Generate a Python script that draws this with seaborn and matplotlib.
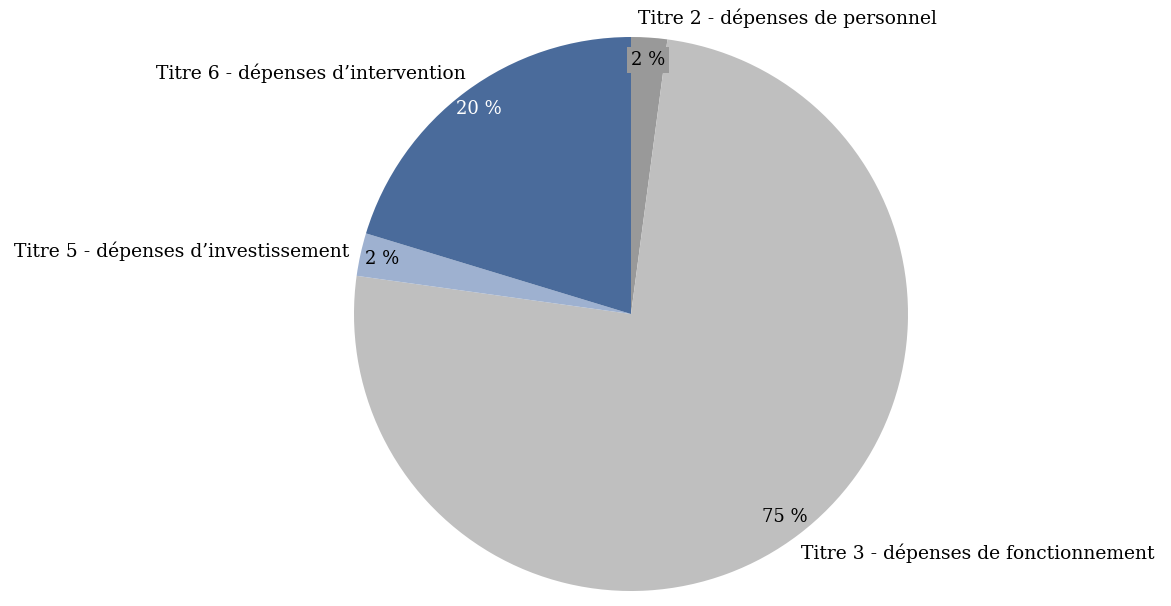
import matplotlib
matplotlib.use('Agg')
import matplotlib.pyplot as plt
import seaborn as sns

# data
labels = ['Titre 2 - dépenses de personnel',
          'Titre 3 - dépenses de fonctionnement',
          'Titre 5 - dépenses d’investissement',
          'Titre 6 - dépenses d’intervention']
values = [2.1, 75.1, 2.5, 20.3]

colors = ['#999999', '#bfbfbf', '#9eb1d0', '#4a6b9b']
pct_colors = ['black', 'black', 'black', 'white']

# outer label anchors (in pie radius units) and alignment
label_xy = [(0.025, 1.069), (0.614, -0.863), (-1.018, 0.227), (-0.596, 0.870)]
label_ha = ['left', 'left', 'right', 'right']

sns.set_theme(style="white")
plt.rcParams['font.family'] = ['DejaVu Serif']

fig = plt.figure(figsize=(11.71, 6.06), dpi=100)
cx, cy, r = 631, 314, 277
ax = fig.add_axes([(cx - r) / 1171, (606 - cy - r) / 606, 2 * r / 1171, 2 * r / 606])

wedges, texts, autotexts = ax.pie(values, colors=colors, startangle=90, counterclock=False,
                                  autopct=lambda p: f"{round(p)} %", pctdistance=0.92,
                                  wedgeprops=dict(linewidth=0),
                                  textprops=dict(fontsize=13))
for t, c in zip(autotexts, pct_colors):
    t.set_color(c)
autotexts[0].set_bbox(dict(facecolor=colors[0], edgecolor='none', pad=3))

for lab, (x, y), ha in zip(labels, label_xy, label_ha):
    ax.text(x, y, lab, ha=ha, va='center', fontsize=13.5, color='black', clip_on=False)

ax.set_xlim(-1, 1)
ax.set_ylim(-1, 1)
ax.set_aspect('auto')
ax.axis('off')

fig.savefig('out.png', dpi=100, facecolor='white')
